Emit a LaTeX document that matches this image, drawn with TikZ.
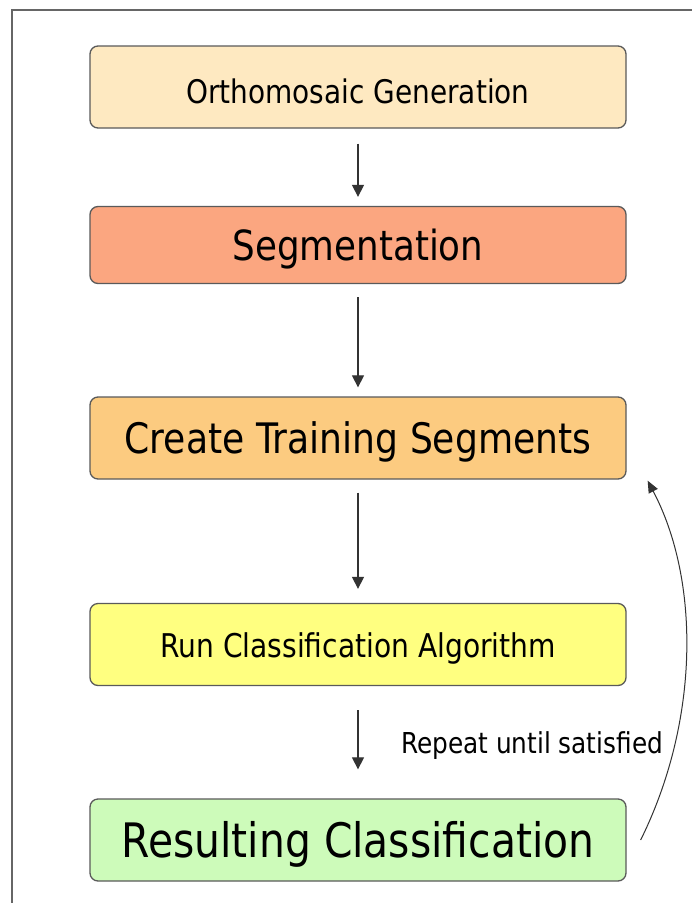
\documentclass[tikz,border=0pt]{standalone}
\usepackage{fontspec}
\usepackage{graphicx}
\setmainfont{DejaVu Sans}
\usetikzlibrary{arrows.meta}
\definecolor{cOrtho}{HTML}{FEE9C1}
\definecolor{cSeg}{HTML}{FBA680}
\definecolor{cTrain}{HTML}{FCCB80}
\definecolor{cRun}{HTML}{FFFF80}
\definecolor{cRes}{HTML}{CDFBBA}
\definecolor{cEdge}{HTML}{5A5A5A}
% condensed label text, drawn a little low while keeping its nominal size
\newcommand\lbl[2]{\raisebox{-4pt}[\height][\depth]{\scalebox{0.86}[1]{\fontsize{#1}{#1}\selectfont #2}}}
\tikzset{
  stepbox/.style={draw=cEdge, line width=1.3pt, rounded corners=8pt,
    minimum width=536pt, minimum height=82pt, inner sep=0pt, text=black},
  flow/.style={draw=black!80, line width=1.2pt,
    -{Triangle[width=12pt,length=12pt]}},
  loop/.style={draw=black!80, line width=1pt,
    -{Triangle[width=10pt,length=12pt]}}
}
\begin{document}
\begin{tikzpicture}[x=1pt,y=-1pt]
\useasboundingbox (0,0) rectangle (692,903);
\fill[white] (0,0) rectangle (692,903);
% outer frame, running past the right and bottom edges
\draw[line width=1.4pt, draw=black!60] (12,930) -- (12,10) -- (720,10);

\node[stepbox, fill=cOrtho] (ortho) at (358,87)    {\lbl{32.5pt}{Orthomosaic Generation}};
\node[stepbox, fill=cSeg, minimum height=77pt] (seg) at (358,245) {\lbl{41.5pt}{Segmentation}};
\node[stepbox, fill=cTrain] (train) at (358,438)   {\lbl{42pt}{Create Training Segments}};
\node[stepbox, fill=cRun] (run) at (358,644.5)     {\lbl{32.7pt}{Run Classification Algorithm}};
\node[stepbox, fill=cRes] (res) at (358,840)       {\lbl{47.5pt}{Resulting Classification}};

\draw[flow, shorten <=15pt, shorten >=9pt] (ortho) -- (seg);
\draw[flow, shorten <=13pt, shorten >=9pt] (seg) -- (train);
\draw[flow, shorten <=13pt, shorten >=14pt] (train) -- (run);
\draw[flow, shorten <=24pt, shorten >=29pt] (run) -- (res);

% feedback loop
\coordinate (loopA) at ([xshift=14pt]res.east);
\coordinate (loopB) at ([xshift=21pt,yshift=-1pt]train.south east);
\draw[loop] (loopA) .. controls (700,720) and (700,580) .. (loopB);
\node (repeat) at (532,742) {\lbl{28.8pt}{Repeat until satisfied}};
\end{tikzpicture}
\end{document}
